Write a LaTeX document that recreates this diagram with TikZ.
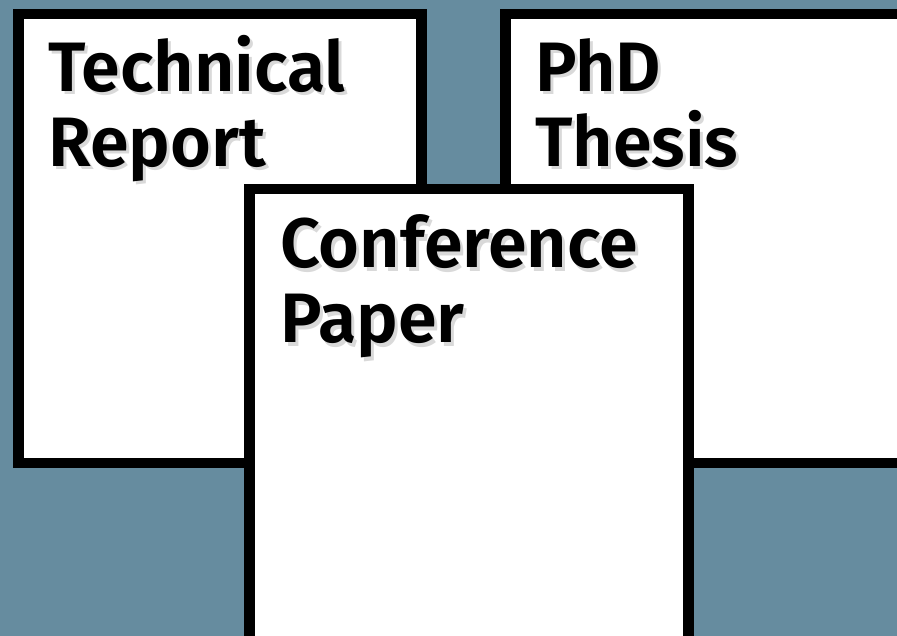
\documentclass[tikz,border=0pt]{standalone}
\usepackage{fontspec}
\setmainfont{Fira Sans}[BoldFont={Fira Sans SemiBold}]
\usepackage{xcolor}
\usepackage{tikz}

\definecolor{slateback}{RGB}{102,140,159}
\tikzset{
  sheet/.style={draw=black, fill=white, line width=10.5pt},
  title/.style={anchor=base west, inner sep=0pt, align=left, font=\fontsize{70}{75}\selectfont\bfseries},
  shadowtext/.style={title, text=black, opacity=0.15}
}

\begin{document}
\begin{tikzpicture}[x=1pt,y=1pt,yscale=-1,xscale=1]
\useasboundingbox (0,0) rectangle (897,636);
\fill [slateback] (0,0) rectangle (897,636);
\clip (0,0) rectangle (897,636);

%Shape: Rectangle [id:techreport]
\draw [sheet] (18.5,14) rectangle (421.5,463);
%Shape: Rectangle [id:phdthesis]
\draw [sheet] (505.5,14) rectangle (930,463);

% Text Node
\node [shadowtext] (techshadow) at (51,170) {Technical\\Report};
\node [title] (techtitle) at (48,167) {Technical\\Report};
% Text Node
\node [shadowtext] (phdshadow) at (538,170) {PhD\\Thesis};
\node [title] (phdtitle) at (535,167) {PhD\\Thesis};

%Shape: Rectangle [id:confpaper]
\draw [sheet] (249.5,189) rectangle (688.5,660);

% Text Node
\node [shadowtext] (confshadow) at (283,346) {Conference\\Paper};
\node [title] (conftitle) at (280,343) {Conference\\Paper};

\end{tikzpicture}
\end{document}
